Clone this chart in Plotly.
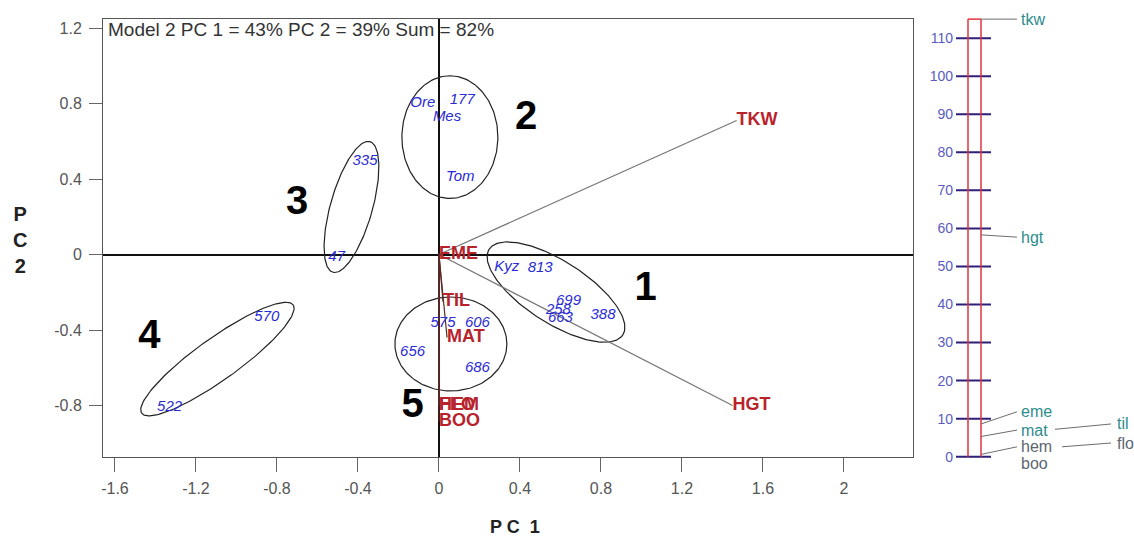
import numpy as np
import plotly.graph_objects as go

# ---------------- data ----------------
geno = ["Ore", "177", "Mes", "Tom", "335", "47", "570", "522", "Kyz", "813",
        "699", "258", "663", "388", "575", "606", "656", "686"]
geno_pc1 = [-0.08, 0.115, 0.04, 0.105, -0.365, -0.505, -0.85, -1.33, 0.335, 0.50,
            0.64, 0.59, 0.60, 0.81, 0.02, 0.19, -0.13, 0.19]
geno_pc2 = [0.80, 0.815, 0.725, 0.41, 0.495, -0.013, -0.33, -0.81, -0.07, -0.075,
            -0.245, -0.295, -0.34, -0.32, -0.363, -0.363, -0.517, -0.60]

traits = ["TKW", "HGT", "EME", "TIL", "MAT", "FLO", "HEM", "BOO"]
trait_pc1 = [1.47, 1.45, 0.0, 0.02, 0.04, 0.0, 0.0, 0.0]
trait_pc2 = [0.71, -0.80, 0.0, -0.25, -0.44, -0.80, -0.80, -0.885]

cluster_names = ["1", "2", "3", "4", "5"]
cluster_lab_pc1 = [1.02, 0.43, -0.70, -1.43, -0.13]
cluster_lab_pc2 = [-0.19, 0.72, 0.27, -0.44, -0.81]

x_ticks = [-1.6, -1.2, -0.8, -0.4, 0, 0.4, 0.8, 1.2, 1.6, 2]
x_ticktext = ["-1.6", "-1.2", "-0.8", "-0.4", "0", "0.4", "0.8", "1.2", "1.6", "2"]
y_ticks = [-0.8, -0.4, 0, 0.4, 0.8, 1.2]
y_ticktext = ["-0.8", "-0.4", "0", "0.4", "0.8", "1.2"]

scale_ticks = [0, 10, 20, 30, 40, 50, 60, 70, 80, 90, 100, 110]
scale_vars = ["tkw", "hgt", "eme", "mat", "hem", "boo"]
scale_vals = [115, 58.3, 8.6, 5.3, 0.6, 0.0]

title_text = "Model 2 PC 1 = 43% PC 2 = 39% Sum = 82%"

# ---------------- layout constants ----------------
SX, SY = 202.5, 188.75          # px per data unit (main axes)
FONT = "Arial, Liberation Sans, sans-serif"
BLUE = "#2b2bd6"
RED = "#b8232b"

W, H = 1134, 539
ML, MR, MT, MB = 103, 0, 10, 59
pw = W - ML - MR
ph = H - MT - MB
PB = H - MB  # paper bottom in px


def py(p):
    return (PB - p) / ph


fig = go.Figure()

# ellipses (center, major half-vector in data units, minor half-length in px)
ell_specs = [
    (0.578, -0.199, 0.33, -0.227, 31),
    (0.054, 0.622, 0.0, 0.325, 48),
    (-0.432, 0.252, 0.0914, 0.346, 21),
    (-1.094, -0.554, 0.374, 0.287, 21),
    (0.059, -0.474, 0.2765, 0.0, 47),
]
t = np.linspace(0, 2 * np.pi, 200)
for cx, cy, ux, uy, mpx in ell_specs:
    upx, upy = ux * SX, uy * SY
    L = np.hypot(upx, upy)
    vx, vy = (-upy / L * mpx) / SX, (upx / L * mpx) / SY
    fig.add_trace(go.Scatter(
        x=cx + ux * np.cos(t) + vx * np.sin(t),
        y=cy + uy * np.cos(t) + vy * np.sin(t),
        mode="lines", line=dict(color="#222222", width=1.2),
        hoverinfo="skip", showlegend=False))

# trait vectors
for i, tr in enumerate(traits):
    col = "#777777" if tr in ("TKW", "HGT") else "#5a2a2a"
    fig.add_trace(go.Scatter(x=[0, trait_pc1[i]], y=[0, trait_pc2[i]], mode="lines",
                             line=dict(color=col, width=1.2), hoverinfo="skip",
                             showlegend=False))

# genotype labels
fig.add_trace(go.Scatter(x=geno_pc1, y=geno_pc2, mode="text", text=geno,
                         textposition="middle center",
                         textfont=dict(family=FONT, size=15, color=BLUE, style="italic"),
                         showlegend=False, cliponaxis=False))

# trait labels
fig.add_trace(go.Scatter(x=trait_pc1, y=trait_pc2, mode="text", text=traits,
                         textposition="middle right",
                         textfont=dict(family=FONT, size=18, color=RED, weight="bold"),
                         showlegend=False, cliponaxis=False))

# cluster numbers
fig.add_trace(go.Scatter(x=cluster_lab_pc1, y=cluster_lab_pc2, mode="text",
                         text=cluster_names, textposition="middle center",
                         textfont=dict(family=FONT, size=40, color="#000000", weight="bold"),
                         showlegend=False, cliponaxis=False))

# ---------------- right scale ----------------
tick_x, tick_y = [], []
for v in scale_ticks:
    tick_x += [0, 35, None]
    tick_y += [v, v, None]
fig.add_trace(go.Scatter(x=tick_x, y=tick_y, mode="lines", xaxis="x2", yaxis="y2",
                         line=dict(color="#2e1f78", width=2), hoverinfo="skip",
                         showlegend=False))
top = max(scale_vals)
for xr in (12, 25):
    fig.add_trace(go.Scatter(x=[xr, xr], y=[0, top], mode="lines", xaxis="x2", yaxis="y2",
                             line=dict(color="#e2323f", width=1.5), hoverinfo="skip",
                             showlegend=False))
fig.add_trace(go.Scatter(x=[12, 25], y=[top, top], mode="lines", xaxis="x2", yaxis="y2",
                         line=dict(color="#e2323f", width=1.5), hoverinfo="skip",
                         showlegend=False))

label_y = [115, 57.7, 11.8, 7.0, 2.6, -1.7]
label_col = ["#2e8c8c", "#2e8c8c", "#2e8c8c", "#2e8c8c", "#5d6670", "#5d6670"]
for name, val, ly, col in zip(scale_vars, scale_vals, label_y, label_col):
    if name != "boo":
        fig.add_trace(go.Scatter(x=[25, 61], y=[val, ly], mode="lines", xaxis="x2",
                                 yaxis="y2", line=dict(color="#6d6d6d", width=1),
                                 hoverinfo="skip", showlegend=False))
    fig.add_annotation(x=63, y=ly, xref="x2", yref="y2", text=name, showarrow=False,
                       xanchor="left", yanchor="middle",
                       font=dict(family=FONT, size=16, color=col))
# displaced labels (til next to mat, flo next to hem)
for name, y0, y1, x0, col in [("til", 7.2, 8.6, 99, "#2e8c8c"),
                              ("flo", 2.6, 3.6, 106, "#5d6670")]:
    fig.add_trace(go.Scatter(x=[x0, 155], y=[y0, y1], mode="lines", xaxis="x2",
                             yaxis="y2", line=dict(color="#6d6d6d", width=1),
                             hoverinfo="skip", showlegend=False))
    fig.add_annotation(x=159, y=y1, xref="x2", yref="y2", text=name, showarrow=False,
                       xanchor="left", yanchor="middle",
                       font=dict(family=FONT, size=16, color=col))

# ---------------- text ----------------
fig.add_annotation(x=0.003, y=py(29), xref="paper", yref="paper", text=title_text,
                   showarrow=False, xanchor="left", yanchor="middle",
                   font=dict(family=FONT, size=19, color="#333333"))
fig.add_annotation(x=(515 - ML) / pw, y=py(527), xref="paper", yref="paper",
                   text="P C  1", showarrow=False, xanchor="center", yanchor="middle",
                   font=dict(family=FONT, size=18, color="#222222", weight="bold"))
fig.add_annotation(x=(20 - ML) / pw, y=py(240), xref="paper", yref="paper",
                   text="P<br>C<br>2", showarrow=False, xanchor="center",
                   yanchor="middle",
                   font=dict(family=FONT, size=20, color="#222222", weight="bold"))

fig.update_layout(
    width=W, height=H,
    margin=dict(l=ML, r=MR, t=MT, b=MB, pad=0),
    paper_bgcolor="white", plot_bgcolor="white",
    showlegend=False,
    xaxis=dict(domain=[0, 810 / pw], range=[-1.659, 2.341], tickvals=x_ticks,
               ticktext=x_ticktext, ticks="outside", ticklen=14, tickcolor="#666666",
               tickfont=dict(family=FONT, size=16, color="#555555"),
               showgrid=False, zeroline=True, zerolinecolor="#111111", zerolinewidth=1.5,
               showline=True, linecolor="#555555", linewidth=1, mirror=True,
               ticklabelstandoff=3, anchor="y"),
    yaxis=dict(domain=[py(457), py(19)], range=[-1.0728, 1.2477], tickvals=y_ticks,
               ticktext=y_ticktext, ticks="outside", ticklen=13, tickcolor="#666666",
               tickfont=dict(family=FONT, size=16, color="#555555"),
               showgrid=False, zeroline=True, zerolinecolor="#111111", zerolinewidth=1.5,
               showline=True, linecolor="#555555", linewidth=1, mirror=True,
               ticklabelstandoff=4, anchor="x"),
    xaxis2=dict(domain=[(956 - ML) / pw, 1], range=[0, 178], visible=False,
                anchor="y2"),
    yaxis2=dict(domain=[0, 1], range=[(456.7 - PB) / 3.805, (456.7 - MT) / 3.805],
                anchor="x2", tickvals=scale_ticks,
                ticks="", showgrid=False, zeroline=False, showline=False,
                tickfont=dict(family=FONT, size=14, color="#5b5bbf"),
                ticklabelstandoff=2),
)

fig.write_html("out.html", config={"displayModeBar": False},
               post_script="document.body.style.margin='0px';")
